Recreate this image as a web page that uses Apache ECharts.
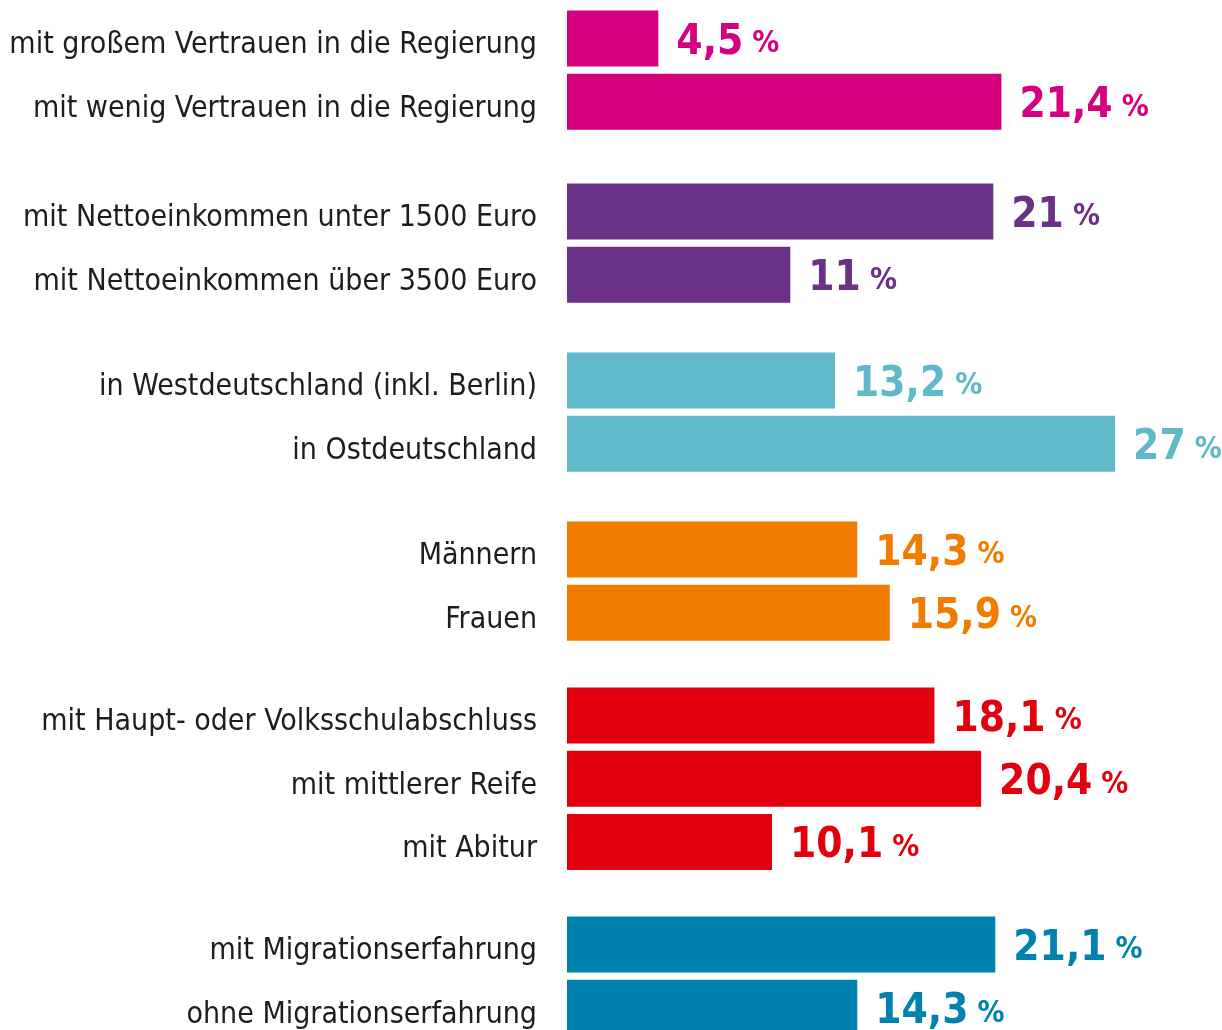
<!DOCTYPE html>
<html><head><meta charset="utf-8">
<script src="https://cdn.jsdelivr.net/npm/echarts@6/dist/echarts.min.js"></script>
<style>html,body{margin:0;padding:0;background:#fff}#c{width:1222px;height:1030px}</style>
</head><body><div id="c"></div>
<script>
const categories = [
  'mit großem Vertrauen in die Regierung',
  'mit wenig Vertrauen in die Regierung',
  'mit Nettoeinkommen unter 1500 Euro',
  'mit Nettoeinkommen über 3500 Euro',
  'in Westdeutschland (inkl. Berlin)',
  'in Ostdeutschland',
  'Männern',
  'Frauen',
  'mit Haupt- oder Volksschulabschluss',
  'mit mittlerer Reife',
  'mit Abitur',
  'mit Migrationserfahrung',
  'ohne Migrationserfahrung'
];
const values = [4.5, 21.4, 21, 11, 13.2, 27, 14.3, 15.9, 18.1, 20.4, 10.1, 21.1, 14.3];
const groupSizes = [2, 2, 2, 2, 3, 2];
const groupColors = ['#D5007F', '#6B3187', '#5FB9C9', '#F07C00', '#E2000F', '#0082AE'];

// layout
const groupTops = [7, 180, 349, 518, 684, 913];
const slot = 63.2;
const labelFont = "'Liberation Sans Narrow', 'DejaVu Sans Condensed', sans-serif";

const grids = [], xAxes = [], yAxes = [], series = [];
let idx = 0;
groupSizes.forEach((n, g) => {
  const cats = categories.slice(idx, idx + n);
  const vals = values.slice(idx, idx + n);
  idx += n;
  grids.push({ left: 567, width: 609, top: groupTops[g], height: n * slot, containLabel: false, outerBoundsMode: 'none' });
  xAxes.push({ gridIndex: g, type: 'value', min: 0, max: 30, show: false });
  yAxes.push({
    gridIndex: g, type: 'category', inverse: true, data: cats,
    axisLine: { show: false }, axisTick: { show: false }, splitLine: { show: false },
    axisLabel: {
      margin: 30,
      formatter: v => '{c|' + v + '}',
      rich: { c: { color: '#1d1d1b', fontSize: 30, fontFamily: labelFont, padding: [14, 0, 0, 0] } }
    }
  });
  const col = groupColors[g];
  series.push({
    type: 'bar', xAxisIndex: g, yAxisIndex: g, data: vals, barWidth: 56,
    itemStyle: { color: col }, silent: true,
    label: {
      show: true, position: 'right', distance: 18,
      formatter: p => '{n|' + String(p.value).replace('.', ',') + '}{p|%}',
      rich: {
        n: { color: col, fontSize: 42, fontWeight: 'bold', fontFamily: labelFont, lineHeight: 50, verticalAlign: 'bottom' },
        p: { color: col, fontSize: 30, fontWeight: 'bold', fontFamily: labelFont, lineHeight: 50, verticalAlign: 'bottom', padding: [0, 0, 4, 9] }
      }
    }
  });
});

const chart = echarts.init(document.getElementById('c'), null, { renderer: 'canvas' });
chart.setOption({ animation: false, grid: grids, xAxis: xAxes, yAxis: yAxes, series: series });
</script></body></html>
